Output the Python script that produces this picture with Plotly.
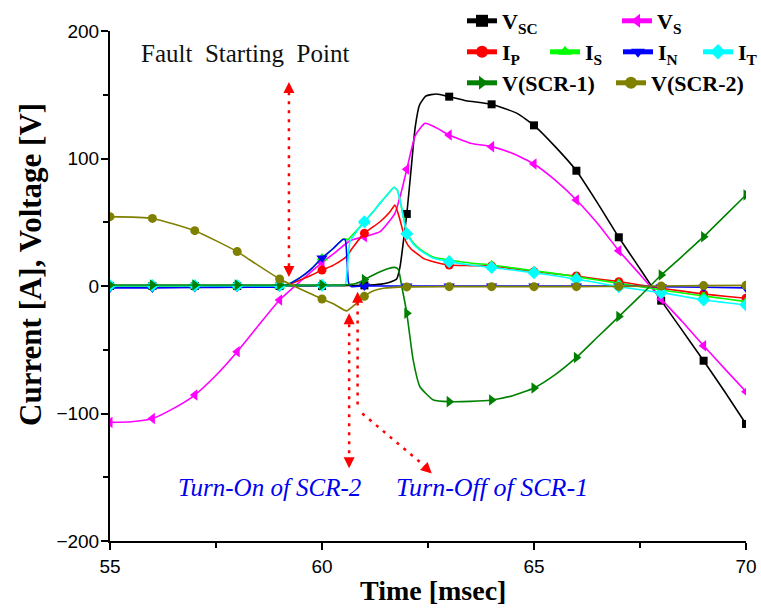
import plotly.graph_objects as go

# ---------------- data ----------------
t_vsc = [55, 56, 57, 58, 59, 60, 60.5, 61, 61.4, 61.6, 61.76, 61.84, 61.92, 62, 62.1, 62.2, 62.3, 62.45, 62.7, 63, 63.4, 64, 64.6, 65, 65.5, 66, 66.5, 67, 67.5, 68, 68.5, 69, 69.5, 70]
v_vsc = [0, 0, 0, 0, 0, 0, 0.3, 0.5, 1.5, 3, 5.5, 15, 35, 56.5, 91, 125, 142, 149, 150.6, 148.5, 145.3, 142.5, 135.4, 126, 109.3, 90.4, 65, 38.2, 13.5, -11.5, -35, -58.6, -83, -108.2]

t_vs = [55, 55.5, 56, 56.5, 57, 57.5, 58, 58.5, 59, 59.5, 60, 60.3, 60.66, 61, 61.37, 61.72, 61.88, 62, 62.2, 62.43, 62.7, 63, 63.5, 64, 64.5, 65, 65.5, 66, 66.5, 67, 67.5, 68, 68.5, 69, 69.5, 70]
v_vs = [-107, -106.5, -104, -96, -85.5, -70, -51.5, -31, -11, 4, 18.3, 26, 35.5, 38.7, 42.6, 57, 75, 91.5, 118, 127.6, 124, 118.4, 112, 109.3, 104, 95.7, 83, 67.5, 49, 27.7, 9, -10.2, -28, -46.8, -65, -82.9]

t_ip = [55, 56, 57, 58, 59, 59.2, 59.5, 59.75, 60, 60.25, 60.5, 60.6, 60.7, 61, 61.37, 61.6, 61.72, 61.84, 61.98, 62.1, 62.23, 62.4, 62.63, 63, 63.5, 64, 64.5, 65, 65.5, 66, 66.5, 67, 67.5, 68, 68.5, 69, 69.5, 70]
v_ip = [0, 0, 0, 0, 0.3, 1, 5, 8.5, 12.5, 16, 21, 24, 29, 41.3, 50.4, 58, 63.5, 51.8, 34.7, 29, 25.6, 21.5, 19.1, 16.5, 16, 15.7, 13.5, 11.2, 9.5, 7.8, 5.5, 3.4, 0.8, -1.8, -4, -6.3, -8, -9.6]

t_is = [55, 56, 57, 58, 59, 59.15, 59.5, 59.75, 60, 60.25, 60.5, 60.56, 60.6, 60.66, 60.8, 61, 61.2, 61.37, 61.55, 61.7, 61.78, 61.86, 61.93, 62, 62.15, 62.31, 62.63, 63, 63.5, 64, 64.5, 65, 65.5, 66, 66.5, 67, 67.5, 68, 68.5, 69, 69.5, 70]
v_is = [0, 0, 0, 0, 0, 0.5, 7, 13.5, 22, 29, 36.6, 37, 36, 38, 43, 50.4, 58, 65, 72, 77.5, 75, 64, 53, 42, 34, 29, 22.5, 20.4, 18, 16.5, 14.2, 12, 9.7, 7.3, 4.7, 2.1, -0.5, -3.1, -5.5, -7.8, -10, -12.3]

t_in = [55, 56, 57, 58, 59, 59.15, 59.5, 59.75, 60, 60.25, 60.5, 60.55, 60.59, 60.63, 60.7, 61, 62, 63, 64, 65, 66, 67, 68, 69, 70]
v_in = [-1.5, -1.5, -1.2, -1, -0.8, 0.5, 7, 13.5, 22, 29, 36.6, 36, 20, 2, -0.5, 0, 0, 0, 0, 0, 0, 0, -0.5, -1, -1.5]

t_it = [55, 56, 57, 58, 59, 60, 60.5, 60.55, 60.6, 60.66, 60.8, 61, 61.2, 61.37, 61.55, 61.7, 61.78, 61.86, 61.93, 62, 62.15, 62.31, 62.63, 63, 63.5, 64, 64.5, 65, 65.5, 66, 66.5, 67, 67.5, 68, 68.5, 69, 69.5, 70]
v_it = [0.3, 0.3, 0.3, 0.3, 0.3, 0.5, 0.7, 1, 15, 34.7, 42, 50.4, 58, 65, 72, 77.5, 75, 64, 52, 41, 33, 28.2, 21.7, 19.1, 16.5, 14.6, 12.5, 10.4, 8, 5.3, 2.5, -0.5, -3, -5.2, -8, -11, -13, -14.9]

t_scr1 = [55, 56, 57, 58, 59, 60, 60.5, 60.8, 61, 61.29, 61.55, 61.72, 61.8, 61.88, 62, 62.15, 62.31, 62.63, 63, 63.5, 64, 64.5, 65, 65.5, 66, 66.5, 67, 67.5, 68, 68.5, 69, 69.5, 70]
v_scr1 = [0.8, 0.8, 0.8, 0.8, 0.8, 0.8, 0.8, 2, 5, 10, 13.5, 14.6, 13, 0, -21.4, -58, -79, -89.4, -90.7, -90.5, -89.4, -86, -80, -69.5, -56, -40, -24, -8, 8.6, 23.5, 38.7, 55, 71.4]

t_scr2 = [55, 56, 57, 58, 58.3, 59, 59.5, 60, 60.3, 60.58, 60.8, 61, 61.2, 61.45, 62, 63, 64, 65, 66, 67, 68, 69, 70]
v_scr2 = [54.4, 53, 43.4, 27, 20.4, 5.5, -2.5, -10.2, -14.5, -19.5, -14, -8.1, -4, -1.8, -0.7, -0.5, -0.5, -0.5, -0.5, -0.3, 0, 0.3, 0.5]

names = ["V<sub>SC</sub>", "V<sub>S</sub>", "I<sub>P</sub>", "I<sub>S</sub>",
         "I<sub>N</sub>", "I<sub>T</sub>", "V(SCR-1)", "V(SCR-2)"]
colors = ["#000000", "#ff00ff", "#ff0000", "#00ff00", "#0000ff", "#00ffff", "#008000", "#808000"]
symbols = ["square", "triangle-left", "circle", "triangle-up", "triangle-down", "diamond", "triangle-right", "circle"]
msizes = [8, 10, 9, 10, 10, 10, 10, 9]
series = [(t_vsc, v_vsc), (t_vs, v_vs), (t_ip, v_ip), (t_is, v_is),
          (t_in, v_in), (t_it, v_it), (t_scr1, v_scr1), (t_scr2, v_scr2)]

# legend item positions (pixel x where the label text starts, pixel y of row)
leg_pos = [(497, 21), (652, 21), (497, 52), (580, 52), (653, 52), (733, 52), (497, 83), (646, 83)]

W, H = 761, 610
fig = go.Figure()
for i, ((t, v), nm, c, s, ms) in enumerate(zip(series, names, colors, symbols, msizes)):
    lg = "legend" if i == 0 else f"legend{i+1}"
    fig.add_trace(go.Scatter(x=t, y=v, mode="lines", line=dict(color=c, width=1.6, shape="spline", smoothing=0.5),
                             showlegend=False, hoverinfo="skip"))
    mt = [a for a in t if float(a).is_integer()]
    mv = [b for a, b in zip(t, v) if float(a).is_integer()]
    fig.add_trace(go.Scatter(x=mt, y=mv, mode="markers", marker=dict(color=c, symbol=s, size=ms, line=dict(width=0)),
                             showlegend=False, hoverinfo="skip"))
    fig.add_trace(go.Scatter(x=[None], y=[None], mode="lines+markers", name=nm, legend=lg,
                             line=dict(color=c, width=1.6),
                             marker=dict(color=c, symbol=s, size=ms, line=dict(width=0))))

legfont = dict(family="Liberation Serif", size=22, color="black", weight="bold")
for i, (px, py) in enumerate(leg_pos):
    key = "legend" if i == 0 else f"legend{i+1}"
    fig.layout[key] = dict(x=(px - 35) / W, y=1 - py / H, xref="container", yref="container",
                           xanchor="left", yanchor="middle", bgcolor="rgba(0,0,0,0)",
                           borderwidth=0, font=legfont, itemsizing="constant",
                           orientation="h", tracegroupgap=0)

# arrows (red dotted)
RED = "#ff0000"
dash = dict(color=RED, width=2.5, dash="3px,6px")
shapes = [
    dict(type="line", xref="x", yref="y", x0=59.22, x1=59.22, y0=152, y1=14, line=dash),
    dict(type="line", xref="x", yref="y", x0=60.64, x1=60.64, y0=-30, y1=-134, line=dash),
    dict(type="line", xref="x", yref="y", x0=60.84, x1=60.84, y0=-13, y1=-95, line=dash),
    dict(type="line", xref="x", yref="y", x0=60.95, x1=62.45, y0=-100, y1=-142, line=dash),
]
heads = [(59.22, 160, 0, 10), (59.22, 7, 0, -10), (60.64, -21.4, 0, 10), (60.64, -143, 0, -10),
         (60.84, -4.5, 0, 10), (62.59, -147, -8, -7.5)]
annotations = []
for x, y, ax, ay in heads:
    annotations.append(dict(x=x, y=y, xref="x", yref="y", ax=ax, ay=ay, text="", showarrow=True,
                            arrowhead=2, arrowsize=1.1, arrowwidth=2, arrowcolor=RED))

annotations += [
    dict(x=58.18, y=182.7, xref="x", yref="y", text="Fault  Starting  Point", showarrow=False,
         font=dict(family="Liberation Serif", size=25, color="#111111")),
    dict(x=58.75, y=-158.4, xref="x", yref="y", text="Turn-On of SCR-2", showarrow=False,
         font=dict(family="Liberation Serif", size=25, color="#0000ee", style="italic")),
    dict(x=64.02, y=-158.4, xref="x", yref="y", text="Turn-Off of SCR-1", showarrow=False,
         font=dict(family="Liberation Serif", size=26, color="#0000ee", style="italic")),
    dict(x=(433 - 110) / 636, y=(541 - 590) / 510, xref="paper", yref="paper", text="Time [msec]",
         showarrow=False, yanchor="middle",
         font=dict(family="Liberation Serif", size=28, color="black", weight="bold")),
    dict(x=(30 - 110) / 636, y=(541 - 265) / 510, xref="paper", yref="paper", text="Current [A], Voltage [V]",
         showarrow=False, textangle=-90, xanchor="center", yanchor="middle",
         font=dict(family="Liberation Serif", size=31, color="black", weight="bold")),
]

tickfont = dict(family="Liberation Sans", size=19, color="black")
fig.update_layout(
    width=W, height=H, margin=dict(l=110, r=15, t=31, b=69, autoexpand=False),
    paper_bgcolor="white", plot_bgcolor="white",
    shapes=shapes, annotations=annotations,
    xaxis=dict(range=[55, 70], tickvals=[55, 60, 65, 70], showgrid=False, zeroline=False,
               showline=True, linecolor="black", linewidth=2, ticks="outside", ticklen=7, tickwidth=2,
               tickcolor="black", tickfont=tickfont,
               minor=dict(tickvals=[57.5, 62.5, 67.5], ticks="outside", ticklen=5, tickwidth=2, tickcolor="black")),
    yaxis=dict(range=[-200, 200], tickvals=[-200, -100, 0, 100, 200], showgrid=False, zeroline=False,
               showline=True, linecolor="black", linewidth=2, ticks="outside", ticklen=7, tickwidth=2,
               tickcolor="black", tickfont=tickfont, ticklabelstandoff=-2,
               minor=dict(tickvals=[-150, -50, 50, 150], ticks="outside", ticklen=5, tickwidth=2, tickcolor="black")),
)

fig.write_html("out.html")
